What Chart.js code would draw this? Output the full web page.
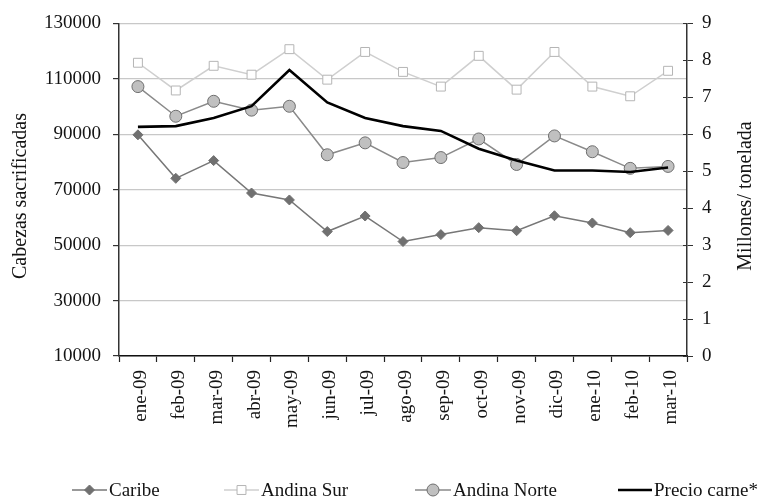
<!DOCTYPE html>
<html><head><meta charset="utf-8">
<script src="https://cdn.jsdelivr.net/npm/chart.js@4/dist/chart.umd.min.js"></script>
<style>html,body{margin:0;padding:0;background:#fff;}#wrap{width:761px;height:502px;}</style>
</head><body><div id="wrap"><canvas id="c" width="761" height="502"></canvas></div>
<script>
const categories = ['ene-09','feb-09','mar-09','abr-09','may-09','jun-09','jul-09','ago-09','sep-09','oct-09','nov-09','dic-09','ene-10','feb-10','mar-10'];
const caribe = [89800, 74100, 80500, 68800, 66300, 54900, 60500, 51300, 53800, 56300, 55200, 60600, 58000, 54500, 55300];
const andinaSur = [115800, 105800, 114700, 111500, 120700, 109700, 119700, 112500, 107200, 118300, 106100, 119700, 107200, 103700, 112900];
const andinaNorte = [107200, 96500, 101900, 98700, 100100, 82600, 86900, 79800, 81600, 88300, 79100, 89400, 83700, 77700, 78400];
const precioCarne = [6.20, 6.22, 6.44, 6.76, 7.74, 6.86, 6.44, 6.22, 6.09, 5.61, 5.29, 5.02, 5.02, 4.98, 5.10];
const leftTicks = [10000, 30000, 50000, 70000, 90000, 110000, 130000];
const rightTicks = [0, 1, 2, 3, 4, 5, 6, 7, 8, 9];
const seriesNames = ['Caribe', 'Andina Sur', 'Andina Norte', 'Precio carne*'];
const axisTitles = ['Cabezas sacrificadas', 'Millones/ tonelada'];

const FONT = '"Liberation Serif", "Times New Roman", serif';
const TXT = '#141414';

const styles = [
  {line:'#777777', fill:'#707070', border:'#707070', ps:'rectRot', r:5, w:1.5},
  {line:'#cfcfcf', fill:'#ffffff', border:'#b5b5b5', ps:'rect', r:6.3, w:1.5},
  {line:'#8a8a8a', fill:'#c0c0c0', border:'#6e6e6e', ps:'circle', r:6, w:1.5},
  {line:'#000000', fill:'#000', border:'#000', ps:false, r:0, w:2.6}
];

const extras = {
  id: 'extras',
  afterDraw(chart) {
    const ctx = chart.ctx;
    const y1 = chart.scales.y1;
    ctx.save();
    ctx.strokeStyle = '#333';
    ctx.lineWidth = 1;
    rightTicks.forEach(v => {
      const y = Math.round(y1.getPixelForValue(v)) + 0.5;
      ctx.beginPath(); ctx.moveTo(y1.left - 4, y); ctx.lineTo(y1.left, y); ctx.stroke();
    });
    ctx.fillStyle = TXT;
    ctx.font = '20px ' + FONT;
    ctx.textAlign = 'center'; ctx.textBaseline = 'middle';
    ctx.save(); ctx.translate(21, 196); ctx.rotate(-Math.PI/2); ctx.fillText(axisTitles[0], 0, 0); ctx.restore();
    ctx.save(); ctx.translate(746, 196); ctx.rotate(-Math.PI/2); ctx.fillText(axisTitles[1], 0, 0); ctx.restore();
    const items = [{x:72, t:109}, {x:224, t:261}, {x:415, t:453}, {x:618, t:654}];
    const ly = 490;
    items.forEach((it, i) => {
      const s = styles[i];
      ctx.strokeStyle = s.line; ctx.lineWidth = s.w;
      ctx.beginPath(); ctx.moveTo(it.x, ly); ctx.lineTo(it.t - 2, ly); ctx.stroke();
      if (s.ps) {
        ctx.fillStyle = s.fill; ctx.strokeStyle = s.border; ctx.lineWidth = 1;
        Chart.helpers.drawPoint(ctx, {pointStyle: s.ps, radius: s.r, rotation: 0, borderWidth: 1}, (it.x + it.t - 2) / 2, ly);
      }
      ctx.fillStyle = TXT; ctx.font = '19px ' + FONT; ctx.textAlign = 'left'; ctx.textBaseline = 'middle';
      ctx.fillText(seriesNames[i], it.t, ly + 1);
    });
    ctx.restore();
  }
};

const datasets = [caribe, andinaSur, andinaNorte, precioCarne].map((d, i) => {
  const s = styles[i];
  return {
    label: seriesNames[i],
    data: d,
    yAxisID: i === 3 ? 'y1' : 'y',
    borderColor: s.line,
    borderWidth: s.w,
    backgroundColor: s.fill,
    pointStyle: s.ps,
    pointRadius: s.r,
    pointBackgroundColor: s.fill,
    pointBorderColor: s.border,
    pointBorderWidth: 1,
    tension: 0,
    order: 3 - i
  };
});

new Chart(document.getElementById('c'), {
  type: 'line',
  data: { labels: categories, datasets },
  options: {
    responsive: false,
    animation: false,
    devicePixelRatio: 1,
    layout: { padding: { top: 19, left: 0, right: 0, bottom: 0 } },
    plugins: { legend: { display: false }, tooltip: { enabled: false }, title: { display: false } },
    scales: {
      x: {
        type: 'category',
        offset: true,
        grid: { offset: true, drawOnChartArea: false, tickLength: 6, tickColor: '#222', tickWidth: 1.2 },
        border: { color: '#111', width: 1.5 },
        ticks: { font: { family: FONT, size: 19 }, color: TXT, maxRotation: 90, minRotation: 90, padding: 8, labelOffset: 3, autoSkip: false },
        afterFit(s) { s.height = 146; }
      },
      y: {
        position: 'left',
        min: 10000, max: 130000,
        afterBuildTicks(s) { s.ticks = leftTicks.map(v => ({ value: v })); },
        grid: { color: '#c8c8c8', lineWidth: 1.2, tickColor: '#333', tickLength: 6 },
        border: { color: '#333', width: 1.5 },
        ticks: { font: { family: FONT, size: 19 }, color: TXT, padding: 12, callback: v => String(v) },
        afterFit(s) { s.width = 119; }
      },
      y1: {
        position: 'right',
        min: 0, max: 9,
        afterBuildTicks(s) { s.ticks = rightTicks.map(v => ({ value: v })); },
        grid: { drawOnChartArea: false, tickColor: '#333', tickLength: 6 },
        border: { color: '#333', width: 1.5 },
        ticks: { font: { family: FONT, size: 19 }, color: TXT, padding: 9, callback: v => String(v) },
        afterFit(s) { s.width = 74; }
      }
    }
  },
  plugins: [extras]
});
</script>
</body></html>
